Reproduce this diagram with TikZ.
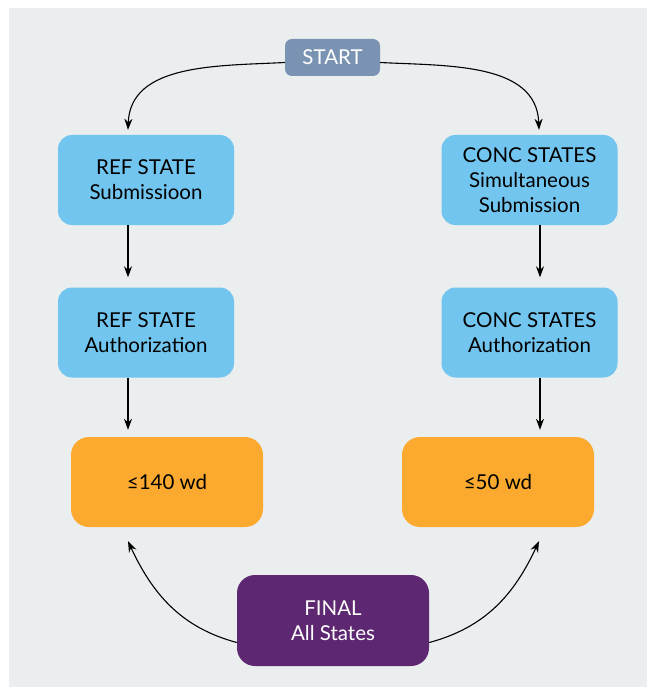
\documentclass[tikz,border=0pt]{standalone}
\usepackage{fontspec}
\setmainfont{Lato}
\usetikzlibrary{arrows.meta}
\definecolor{panel}{HTML}{EAEEEF}
\definecolor{startc}{HTML}{7A93B2}
\definecolor{stepc}{HTML}{72C5EF}
\definecolor{limitc}{HTML}{FBAA2F}
\definecolor{finalc}{HTML}{5E2771}
\tikzset{
  box/.style={rounded corners=14pt, align=center, inner sep=0pt, font=\fontsize{20.5}{25}\selectfont},
  stepbox/.style={box, fill=stepc, text=black, minimum width=176pt, minimum height=90pt},
  limitbox/.style={box, fill=limitc, text=black, minimum width=192pt, minimum height=90pt, rounded corners=18pt},
  link/.style={draw=black, line width=1.1pt, -{Stealth[length=11pt,width=8pt]}},
}
\begin{document}
\begin{tikzpicture}[x=1pt, y=-1pt]
  \useasboundingbox (0,0) rectangle (647,687);
  \fill[panel] (9,8) rectangle (647,687);

  \node[box, fill=startc, text=white, minimum width=95pt, minimum height=37pt, rounded corners=7pt] (start) at (332.5,57.5) {START};

  \node[stepbox] (refsub) at (146,180) {REF STATE\\Submissioon};
  \node[stepbox] (concsub) at (529.5,180) {CONC STATES\\Simultaneous\\Submission};
  \node[stepbox] (refauth) at (146,332.5) {REF STATE\\Authorization};
  \node[stepbox] (concauth) at (529.5,332.5) {CONC STATES\\Authorization};

  \node[limitbox] (reflim) at (167,482) {≤140 wd};
  \node[limitbox] (conclim) at (498,482) {≤50 wd};

  \node[box, fill=finalc, text=white, minimum width=192pt, minimum height=91pt, rounded corners=18pt] (final) at (333,620.5) {FINAL\\All States};

  % entry points on the boxes
  \coordinate (a1) at ([yshift=-5pt]start.west);
  \coordinate (a2) at ([yshift=-5pt]start.east);
  \coordinate (b1) at (refsub.north -| 128,0);
  \coordinate (b2) at (concsub.north -| 539,0);

  \draw[link] (a1) to[out=183, in=88] ([yshift=5pt]b1);
  \draw[link] (a2) to[out=-3, in=92] ([yshift=5pt]b2);

  \draw[link] (refsub.south -| 128,0) -- ([yshift=10pt]refauth.north -| 128,0);
  \draw[link] (concsub.south -| 540,0) -- ([yshift=10pt]concauth.north -| 540,0);
  \draw[link] (refauth.south -| 128,0) -- ([yshift=7pt]reflim.north -| 128,0);
  \draw[link] (concauth.south -| 540,0) -- ([yshift=7pt]conclim.north -| 540,0);

  \draw[link] ([yshift=-22pt]final.west) to[out=165, in=-65] ([yshift=-14pt]reflim.south -| 128,0);
  \draw[link] ([yshift=-22pt]final.east) to[out=15, in=-115] ([yshift=-14pt]conclim.south -| 539,0);
\end{tikzpicture}
\end{document}
